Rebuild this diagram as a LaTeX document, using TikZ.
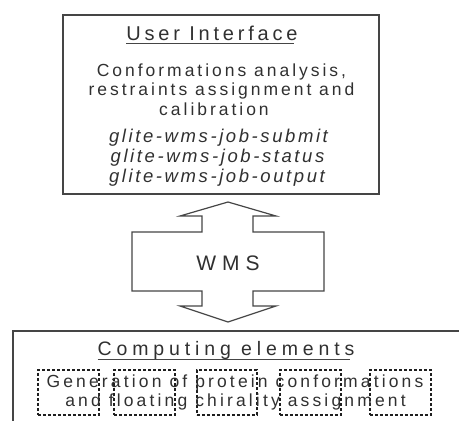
\documentclass[tikz,border=0pt]{standalone}
\usepackage{fontspec}
\setmainfont{Liberation Sans}
\definecolor{txtgray}{HTML}{303030}
\definecolor{linegray}{HTML}{454545}
\tikzset{
  lbl/.style={inner sep=0pt, outer sep=0pt, anchor=base, text=txtgray},
  boxline/.style={draw=linegray, line width=1.8pt},
  arrowline/.style={draw=linegray, line width=1.2pt, line join=miter},
  dashbox/.style={draw=black!88, line width=1.5pt, dash pattern=on 3pt off 2pt, inner sep=0pt, anchor=north west},
}
\begin{document}
\begin{tikzpicture}[x=1pt,y=-1pt]
\path[use as bounding box] (0,0) rectangle (459,421);
\clip (0,0) rectangle (459,421);
% top box
\node[boxline, anchor=north west, minimum width=316pt, minimum height=179pt, inner sep=0pt] (ui) at (62,14) {};
\node[lbl] (uititle) at (212,40.5) {\fontsize{20}{20}\selectfont\addfontfeature{LetterSpace=19}User Interface};
\draw[linegray, line width=1pt] ([yshift=-3pt]uititle.base west) -- ([yshift=-3pt,xshift=-3.5pt]uititle.base east);
\node[lbl] (l1) at (221.5,76) {\fontsize{17.5}{17.5}\selectfont\addfontfeature{LetterSpace=17}Conformations analysis,};
\node[lbl] (l2) at (221.5,95.5) {\fontsize{17.5}{17.5}\selectfont\addfontfeature{LetterSpace=17}restraints assignment and};
\node[lbl] (l3) at (214,115) {\fontsize{17.5}{17.5}\selectfont\addfontfeature{LetterSpace=17}calibration};
\node[lbl] (g1) at (218.5,142) {\fontsize{18.5}{18.5}\selectfont\itshape\addfontfeature{LetterSpace=14}glite-wms-job-submit};
\node[lbl] (g2) at (217.5,162) {\fontsize{18.5}{18.5}\selectfont\itshape\addfontfeature{LetterSpace=14}glite-wms-job-status};
\node[lbl] (g3) at (217,182) {\fontsize{18.5}{18.5}\selectfont\itshape\addfontfeature{LetterSpace=14}glite-wms-job-output};
% double arrow
\draw[arrowline] (228,202) -- (276,216) -- (253,216) -- (253,232) -- (324,232) -- (324,291)
  -- (253,291) -- (253,306) -- (276,306) -- (228,322) -- (180,306) -- (202,306) -- (202,291)
  -- (132,291) -- (132,232) -- (202,232) -- (202,216) -- (180,216) -- cycle;
\node[lbl] (wms) at (228,270) {\fontsize{21}{21}\selectfont\addfontfeature{LetterSpace=28}WMS};
% bottom box
\node[boxline, anchor=north west, minimum width=470pt, minimum height=120pt, inner sep=0pt] (ce) at (12,330) {};
\node[lbl] (cetitle) at (226,355.5) {\fontsize{19.5}{19.5}\selectfont\addfontfeature{LetterSpace=25}Computing elements};
\draw[linegray, line width=1pt] ([yshift=-4pt]cetitle.base west) -- ([yshift=-4pt,xshift=-4.8pt]cetitle.base east);
\node[dashbox, minimum width=61pt, minimum height=45pt] (d1) at (37,369) {};
\node[dashbox, minimum width=61pt, minimum height=45pt] (d2) at (113,369) {};
\node[dashbox, minimum width=60pt, minimum height=45pt] (d3) at (196,369) {};
\node[dashbox, minimum width=61pt, minimum height=45pt] (d4) at (279,369) {};
\node[dashbox, minimum width=61pt, minimum height=45pt] (d5) at (369,369) {};
\node[lbl] (c1) at (235,387) {\fontsize{17.5}{17.5}\selectfont\addfontfeature{LetterSpace=18}Generation of protein conformations};
\node[lbl] (c2) at (235.5,406) {\fontsize{17.5}{17.5}\selectfont\addfontfeature{LetterSpace=18}and floating chirality assignment};
\end{tikzpicture}
\end{document}
